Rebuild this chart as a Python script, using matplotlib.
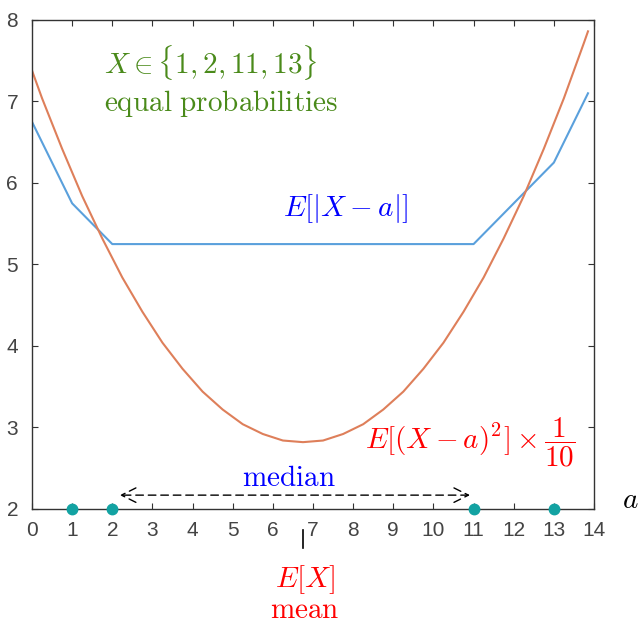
import numpy as np
import matplotlib.pyplot as plt

plt.rcParams['mathtext.fontset'] = 'cm'

# support points of X
x_support = [1, 2, 11, 13]

# E|X - a| (piecewise linear, vertices)
a_abs = [0, 1, 2, 11, 13, 13.85]
e_abs = [6.75, 5.75, 5.25, 5.25, 6.25, 7.10]

a_sq = list(np.arange(0, 13.76, 0.25)) + [13.85]
e_sq = [7.38, 7.04, 6.73, 6.42, 6.13, 5.84, 5.58, 5.32, 5.08, 4.84,
        4.63, 4.42, 4.23, 4.04, 3.88, 3.72, 3.58, 3.44, 3.33, 3.22,
        3.13, 3.04, 2.98, 2.92, 2.88, 2.84, 2.83, 2.82, 2.83, 2.84,
        2.88, 2.92, 2.98, 3.04, 3.13, 3.22, 3.33, 3.44, 3.58, 3.72,
        3.88, 4.04, 4.23, 4.42, 4.63, 4.84, 5.08, 5.32, 5.58, 5.84,
        6.13, 6.42, 6.73, 7.04, 7.38, 7.72, 7.86]

xticks = list(range(0, 15))
yticks = list(range(2, 9))

fig = plt.figure(figsize=(6.41, 6.23), dpi=100)
ax = fig.add_axes([0.0499, 0.183, 0.8768, 0.785])

ax.plot(a_abs, e_abs, color='#5aa0dc', lw=1.5)
ax.plot(a_sq, e_sq, color='#de7f5a', lw=1.5)
ax.plot(x_support, [2] * len(x_support), 'o', color='#12a2a2', ms=7.5,
        clip_on=False, zorder=5)

ax.set_xlim(0, 14)
ax.set_ylim(2, 8)
ax.set_xticks(xticks)
ax.set_yticks(yticks)
ax.tick_params(direction='in', top=True, right=True, length=4, width=0.8,
               labelsize=15, labelcolor='#444444', color='#333333')
ax.tick_params(axis='x', pad=9)
ax.tick_params(axis='y', pad=10)
for lab in ax.get_xticklabels() + ax.get_yticklabels():
    lab.set_family('Liberation Sans')
for s in ax.spines.values():
    s.set_color('#333333')
    s.set_linewidth(1.0)

fs = 21
green = '#4a8a1a'
ax.text(1.79, 7.48, r'$X \in \{1,2,11,13\}$', color=green, fontsize=fs,
        ha='left', va='center')
ax.text(1.79, 6.97, r'$\mathrm{equal\ probabilities}$', color=green,
        fontsize=fs, ha='left', va='center')
ax.text(7.8, 5.69, r'$E[|X-a|]$', color='blue', fontsize=fs,
        ha='center', va='center')
ax.text(10.91, 2.82, r'$E[(X-a)^2]\times\dfrac{1}{10}$', color='red',
        fontsize=fs, ha='center', va='center')
ax.text(6.4, 2.38, r'$\mathrm{median}$', color='blue', fontsize=fs,
        ha='center', va='center')

ax.annotate('', xy=(2.19, 2.17), xytext=(10.91, 2.17),
            arrowprops=dict(arrowstyle='<->', color='black', lw=1.0,
                            linestyle=(0, (5.5, 3.5)), mutation_scale=26,
                            shrinkA=0, shrinkB=0))

ax.plot([6.75, 6.75], [1.52, 1.74], color='black', lw=1.2, clip_on=False)
ax.text(6.8, 1.13, r'$E[X]$', color='red', fontsize=fs,
        ha='center', va='center')
ax.text(6.8, 0.76, r'$\mathrm{mean}$', color='red', fontsize=fs,
        ha='center', va='center')
ax.text(14.9, 2.11, r'$a$', color='black', fontsize=fs,
        ha='center', va='center')

fig.savefig('out.png', dpi=100)
